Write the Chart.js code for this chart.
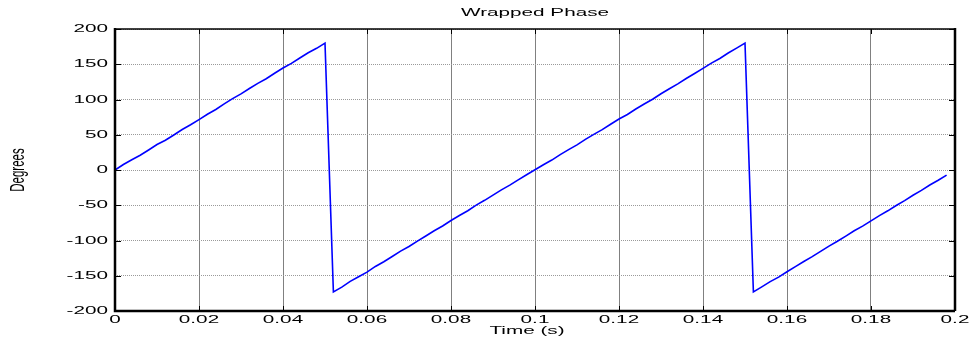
<!DOCTYPE html>
<html>
<head>
<meta charset="utf-8">
<script src="https://cdn.jsdelivr.net/npm/chart.js@4.4.1/dist/chart.umd.min.js"></script>
<style>
  html, body { margin: 0; padding: 0; background: #ffffff; }
  #wrap { width: 976px; height: 341px; }
</style>
</head>
<body>
<div id="wrap"><canvas id="phase" width="976" height="341"></canvas></div>
<script>
// Sample times (s)
const times = [
  0.000, 0.002, 0.004, 0.006, 0.008, 0.010, 0.012, 0.014, 0.016, 0.018,
  0.020, 0.022, 0.024, 0.026, 0.028, 0.030, 0.032, 0.034, 0.036, 0.038,
  0.040, 0.042, 0.044, 0.046, 0.048, 0.050, 0.052, 0.054, 0.056, 0.058,
  0.060, 0.062, 0.064, 0.066, 0.068, 0.070, 0.072, 0.074, 0.076, 0.078,
  0.080, 0.082, 0.084, 0.086, 0.088, 0.090, 0.092, 0.094, 0.096, 0.098,
  0.100, 0.102, 0.104, 0.106, 0.108, 0.110, 0.112, 0.114, 0.116, 0.118,
  0.120, 0.122, 0.124, 0.126, 0.128, 0.130, 0.132, 0.134, 0.136, 0.138,
  0.140, 0.142, 0.144, 0.146, 0.148, 0.150, 0.152, 0.154, 0.156, 0.158,
  0.160, 0.162, 0.164, 0.166, 0.168, 0.170, 0.172, 0.174, 0.176, 0.178,
  0.180, 0.182, 0.184, 0.186, 0.188, 0.190, 0.192, 0.194, 0.196, 0.198
];

// Wrapped phase (degrees)
const phaseDeg = [
  0.0, 7.8, 14.6, 20.9, 28.4, 36.1, 42.3, 49.6, 57.4, 64.2,
  71.5, 79.1, 85.8, 93.9, 101.2, 108.0, 115.6, 122.9, 129.4, 137.2,
  144.6, 151.2, 158.9, 166.3, 172.6, 180.0, -172.8, -166.1, -158.0, -151.4,
  -144.9, -136.8, -130.1, -122.7, -115.0, -108.5, -100.8, -93.6, -86.1, -79.4,
  -71.6, -64.5, -57.8, -49.9, -43.0, -35.7, -28.2, -21.4, -14.0, -6.8,
  0.3, 7.5, 14.1, 21.8, 28.9, 35.7, 43.4, 50.6, 57.2, 64.9,
  72.3, 78.8, 86.5, 93.7, 100.4, 108.1, 115.3, 122.2, 129.8, 136.9,
  144.1, 151.6, 158.2, 165.9, 172.9, 180.0, -172.8, -165.7, -158.4, -151.9,
  -144.3, -137.0, -129.8, -122.9, -115.4, -107.9, -101.1, -93.8, -86.2, -79.6,
  -72.1, -64.7, -57.9, -50.3, -43.4, -35.8, -28.9, -21.3, -14.6, -7.2
];

// Axis ticks
const xTickValues = [0, 0.02, 0.04, 0.06, 0.08, 0.1, 0.12, 0.14, 0.16, 0.18, 0.2];
const xTickLabels = ['0', '0.02', '0.04', '0.06', '0.08', '0.1', '0.12', '0.14', '0.16', '0.18', '0.2'];
const yTickValues = [200, 150, 100, 50, 0, -50, -100, -150, -200];
const yTickLabels = ['200', '150', '100', '50', '0', '-50', '-100', '-150', '-200'];

const chartTitle = 'Wrapped Phase';
const xTitle = 'Time (s)';
const yTitle = 'Degrees';

const FONT = '11.5px "Liberation Sans", Arial, sans-serif';
const STRETCH = 1.8;

function wideText(ctx, text, x, y, align, baseline) {
  ctx.save();
  ctx.translate(x, y);
  ctx.scale(STRETCH, 1);
  ctx.font = FONT;
  ctx.fillStyle = '#000000';
  ctx.textAlign = align;
  ctx.textBaseline = baseline;
  ctx.fillText(text, 0, 0);
  ctx.restore();
}

// Frame, inward tick marks and all labels
const framePlugin = {
  id: 'frame',
  afterDatasetsDraw(chart) {
    const ctx = chart.ctx;
    const a = chart.chartArea;
    const xs = chart.scales.x;
    const ys = chart.scales.y;

    ctx.save();
    ctx.strokeStyle = '#000000';
    ctx.lineWidth = 1;
    ctx.beginPath();
    xTickValues.forEach(v => {
      const px = Math.round(xs.getPixelForValue(v)) + 0.5;
      ctx.moveTo(px, a.bottom); ctx.lineTo(px, a.bottom - 5);
      ctx.moveTo(px, a.top); ctx.lineTo(px, a.top + 5);
    });
    yTickValues.forEach(v => {
      const py = Math.round(ys.getPixelForValue(v)) + 0.5;
      ctx.moveTo(a.left, py); ctx.lineTo(a.left + 6, py);
      ctx.moveTo(a.right, py); ctx.lineTo(a.right - 6, py);
    });
    ctx.stroke();

    // top edge
    ctx.lineWidth = 1.5;
    ctx.beginPath();
    ctx.moveTo(a.left, a.top); ctx.lineTo(a.right, a.top);
    ctx.stroke();
    // left, bottom, right edges
    ctx.lineWidth = 2.5;
    ctx.beginPath();
    ctx.moveTo(a.left, a.top - 1); ctx.lineTo(a.left, a.bottom);
    ctx.lineTo(a.right, a.bottom);
    ctx.moveTo(a.right, a.top - 1); ctx.lineTo(a.right, a.bottom);
    ctx.stroke();
    ctx.restore();

    xTickValues.forEach((v, i) => {
      wideText(ctx, xTickLabels[i], xs.getPixelForValue(v), a.bottom + 9, 'center', 'middle');
    });
    yTickValues.forEach((v, i) => {
      wideText(ctx, yTickLabels[i], a.left - 7, ys.getPixelForValue(v), 'right', 'middle');
    });

    wideText(ctx, chartTitle, (a.left + a.right) / 2, 13, 'center', 'middle');
    wideText(ctx, xTitle, (a.left + a.right) / 2 - 8, 331, 'center', 'middle');

    ctx.save();
    ctx.translate(18, (a.top + a.bottom) / 2);
    ctx.rotate(-Math.PI / 2);
    ctx.scale(1, STRETCH);
    ctx.font = FONT;
    ctx.fillStyle = '#000000';
    ctx.textAlign = 'center';
    ctx.textBaseline = 'middle';
    ctx.fillText(yTitle, 0, 0);
    ctx.restore();
  }
};

new Chart(document.getElementById('phase'), {
  type: 'scatter',
  data: {
    datasets: [{
      data: times.map((t, i) => ({ x: t, y: phaseDeg[i] })),
      showLine: true,
      borderColor: '#0000ff',
      borderWidth: 1.6,
      pointRadius: 0,
      tension: 0,
      fill: false
    }]
  },
  options: {
    responsive: false,
    animation: false,
    events: [],
    layout: { padding: { left: 0, right: 21, top: 29, bottom: 0 } },
    plugins: { legend: { display: false }, tooltip: { enabled: false }, title: { display: false } },
    scales: {
      x: {
        type: 'linear', min: 0, max: 0.2,
        afterBuildTicks(scale) { scale.ticks = xTickValues.map(v => ({ value: v })); },
        afterFit(scale) { scale.height = 30; },
        ticks: { display: false },
        border: { display: false },
        grid: { color: '#808080', lineWidth: 1, drawTicks: false }
      },
      y: {
        type: 'linear', min: -200, max: 200,
        afterBuildTicks(scale) { scale.ticks = yTickValues.map(v => ({ value: v })); },
        afterFit(scale) { scale.width = 115; },
        ticks: { display: false },
        border: { display: false, dash: [1, 1] },
        grid: { color: '#9a9a9a', lineWidth: 1, drawTicks: false }
      }
    }
  },
  plugins: [framePlugin]
});
</script>
</body>
</html>
